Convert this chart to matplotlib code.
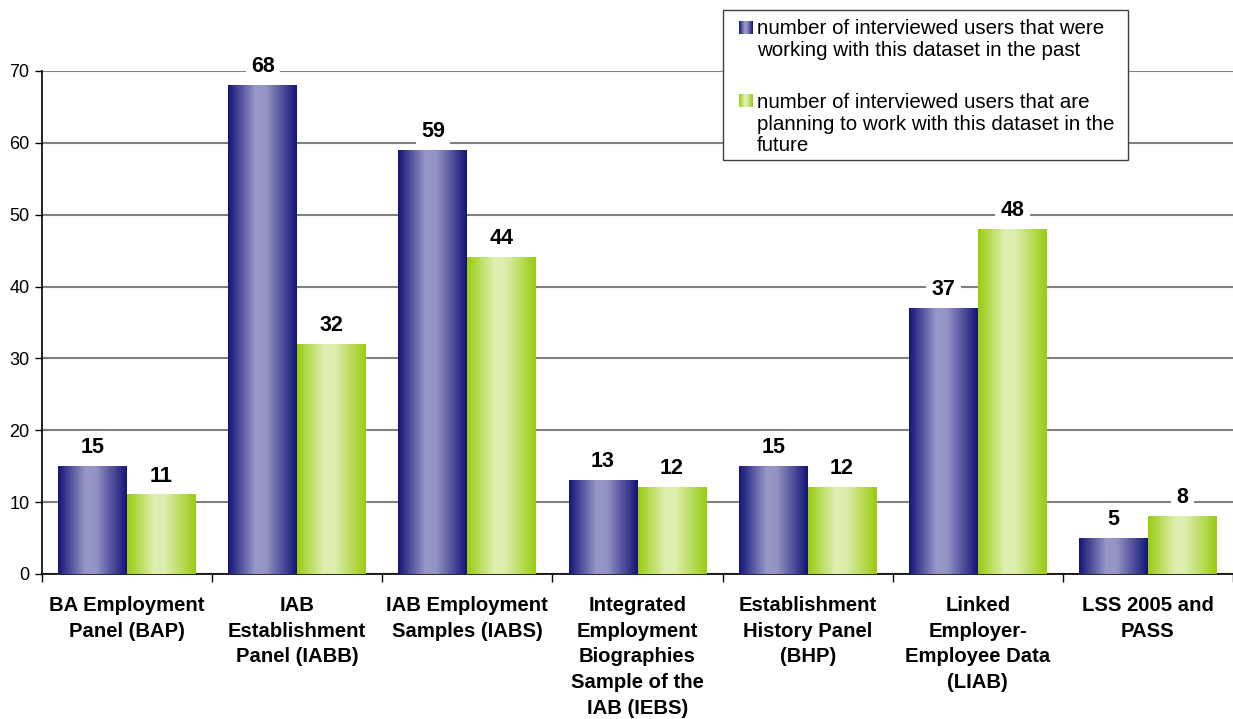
import numpy as np
import matplotlib
matplotlib.use("Agg")
import matplotlib.pyplot as plt
from matplotlib.colors import LinearSegmentedColormap
from matplotlib.patches import Rectangle

plt.rcParams['font.family'] = ['Liberation Sans', 'DejaVu Sans']

categories = [
    "BA Employment\nPanel (BAP)",
    "IAB\nEstablishment\nPanel (IABB)",
    "IAB Employment\nSamples (IABS)",
    "Integrated\nEmployment\nBiographies\nSample of the\nIAB (IEBS)",
    "Establishment\nHistory Panel\n(BHP)",
    "Linked\nEmployer-\nEmployee Data\n(LIAB)",
    "LSS 2005 and\nPASS",
]
past = [15, 68, 59, 13, 15, 37, 5]
future = [11, 32, 44, 12, 12, 48, 8]
series_labels = [
    "number of interviewed users that were\nworking with this dataset in the past",
    "number of interviewed users that are\nplanning to work with this dataset in the\nfuture",
]

W, H = 1233, 719
fig = plt.figure(figsize=(W / 100, H / 100), dpi=100)
ax = fig.add_axes([42 / W, 1 - 574 / H, (W - 42) / W, (574 - 71) / H])

blue_cmap = LinearSegmentedColormap.from_list(
    "b", [(0, "#141478"), (0.4, "#9898c8"), (0.55, "#9494c4"), (1, "#141478")])
green_cmap = LinearSegmentedColormap.from_list(
    "g", [(0, "#99cc11"), (0.4, "#e0efb2"), (0.55, "#dcedac"), (1, "#99cc11")])
grad = np.linspace(0, 1, 256).reshape(1, -1)

x = np.arange(len(categories))
bw = 0.405
bars1 = ax.bar(x - bw / 2, past, bw, color="none", zorder=3)
bars2 = ax.bar(x + bw / 2, future, bw, color="none", zorder=3)

ax.set_xlim(-0.5, len(categories) - 0.5)
ax.set_ylim(0, 70)

for bars, cmap in ((bars1, blue_cmap), (bars2, green_cmap)):
    for b in bars:
        x0, w, h = b.get_x(), b.get_width(), b.get_height()
        ax.imshow(grad, cmap=cmap, extent=[x0, x0 + w, 0, h], aspect="auto",
                  zorder=3, interpolation="bilinear")
        ax.annotate(f"{int(h)}", (x0 + w / 2, h), xytext=(0, 6),
                    textcoords="offset points", ha="center", va="bottom",
                    fontsize=15.5, fontweight="bold", annotation_clip=False,
                    bbox=dict(boxstyle="square,pad=0.25", fc="white", ec="none"),
                    zorder=5)

ax.set_xlim(-0.5, len(categories) - 0.5)
ax.set_ylim(0, 70)

ax.set_yticks(range(0, 71, 10))
ax.yaxis.grid(True, color="#808080", linewidth=1.5, zorder=0)
ax.set_axisbelow(True)
ax.tick_params(axis="y", labelsize=13, direction="out", length=5, width=1, pad=4)

ax.set_xticks(np.arange(-0.5, len(categories), 1.0))
ax.set_xticklabels([])
ax.tick_params(axis="x", direction="out", length=6, width=1)
ax.set_xticks(x, minor=True)
ax.set_xticklabels(categories, minor=True, fontsize=14.6, fontweight="bold",
                   linespacing=1.44)
ax.tick_params(axis="x", which="minor", length=0, pad=16)

for s in ("top", "right"):
    ax.spines[s].set_visible(False)
ax.spines["left"].set_linewidth(1.2)
ax.spines["bottom"].set_linewidth(1.2)

# Legend (manual box)
lx0, ly0, lx1, ly1 = 723, 10, 1128, 160
fig.patches.append(Rectangle((lx0 / W, 1 - ly1 / H), (lx1 - lx0) / W, (ly1 - ly0) / H,
                             transform=fig.transFigure, fc="white", ec="#404040",
                             lw=1.0, zorder=10))
entry_tops = [19, 93]
swatch_tops = [21, 94]
for i, (lab, cmap) in enumerate(zip(series_labels, (blue_cmap, green_cmap))):
    ty = entry_tops[i]
    sy = swatch_tops[i]
    sax = fig.add_axes([739 / W, 1 - (sy + 13) / H, 14 / W, 13 / H], zorder=11)
    sax.imshow(grad, cmap=cmap, aspect="auto")
    sax.set_axis_off()
    fig.text(757 / W, 1 - ty / H, lab, ha="left", va="top", fontsize=14.8,
             linespacing=1.17, zorder=12)

fig.savefig("out.png", dpi=100)
